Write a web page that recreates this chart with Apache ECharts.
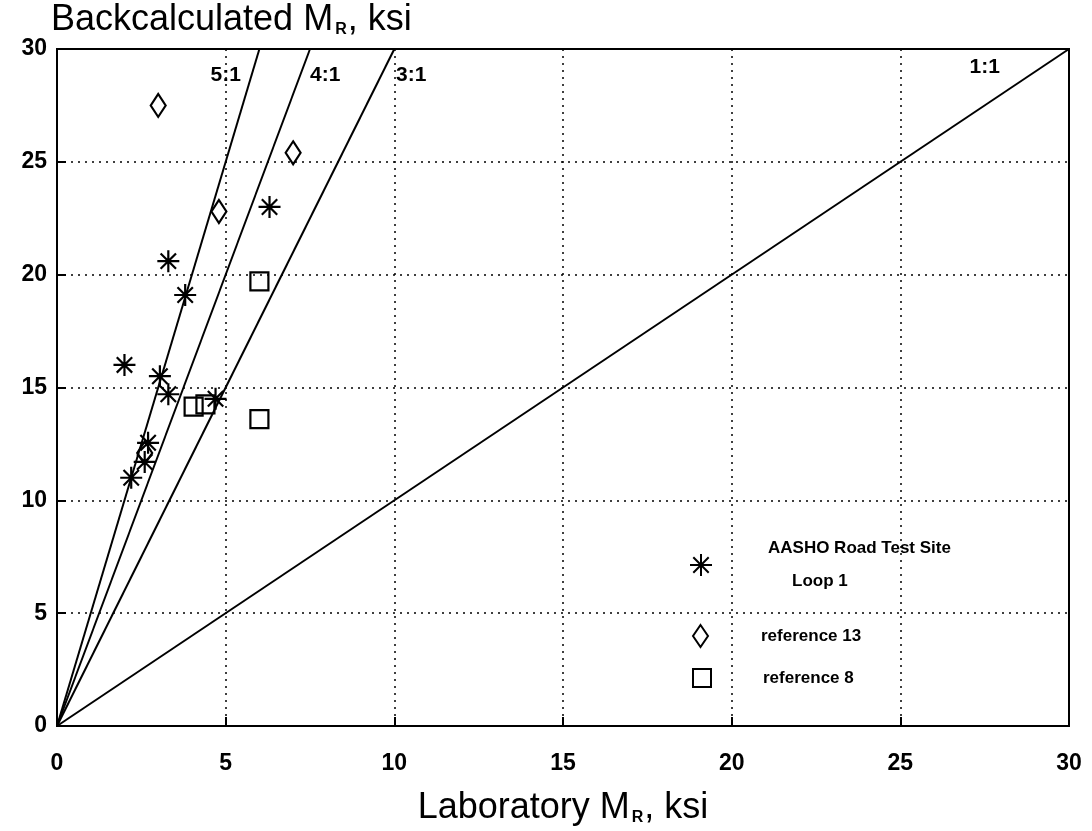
<!DOCTYPE html>
<html>
<head>
<meta charset="utf-8">
<script src="https://cdn.jsdelivr.net/npm/echarts@6/dist/echarts.min.js"></script>
<style>
html,body{margin:0;padding:0;background:#fff;}
#chart{width:1092px;height:831px;}
</style>
</head>
<body>
<div id="chart"></div>
<script>
// ---- data ----
const aashoX = [6.3, 3.3, 3.8, 2.0, 3.05, 3.3, 4.7, 2.7, 2.6, 2.2];
const aashoY = [23.0, 20.6, 19.1, 16.0, 15.5, 14.7, 14.5, 12.55, 11.7, 11.0];
const ref13X = [3.0, 7.0, 4.8, 2.6];
const ref13Y = [27.5, 25.4, 22.8, 12.1];
const ref8X = [6.0, 4.05, 4.4, 6.0];
const ref8Y = [19.7, 14.15, 14.25, 13.6];
const ratioNames = ['5:1', '4:1', '3:1', '1:1'];
const ratioEndX = [6, 7.5, 10, 30];
const ratioEndY = [30, 30, 30, 30];
const ratioLabelX = [5.0, 7.95, 10.5, 27.5];
const ratioLabelY = [28.85, 28.85, 28.85, 29.2];
const axisTicks = [0, 5, 10, 15, 20, 25, 30];

const FONT = 'Liberation Sans, Arial, sans-serif';
const asteriskPath = 'path://M10,0L10,20M0,10L20,10M3,3L17,17M3,17L17,3';

const zip = (xs, ys) => xs.map((x, i) => [x, ys[i]]);

const ratioSeries = ratioNames.map((n, i) => ({
  name: 'line ' + n,
  type: 'line',
  data: [[0, 0], [ratioEndX[i], ratioEndY[i]]],
  symbol: 'none',
  silent: true,
  lineStyle: { color: '#000', width: 2 },
  z: 3
}));

const axisCommon = {
  type: 'value', min: axisTicks[0], max: axisTicks[axisTicks.length - 1], interval: 5,
  axisLine: { show: true, onZero: false, lineStyle: { color: '#000', width: 2 } },
  axisTick: { show: true, inside: true, length: 9, lineStyle: { color: '#000', width: 2 } },
  splitLine: { show: true, lineStyle: { color: '#000', width: 1.5, type: [2, 5] } },
  axisLabel: { color: '#000', fontSize: 23, fontWeight: 'bold', fontFamily: FONT }
};

const titleRich = {
  a: { fontSize: 36, fontFamily: FONT, color: '#000', lineHeight: 40, verticalAlign: 'bottom' },
  s: { fontSize: 16, fontWeight: 'bold', fontFamily: FONT, color: '#000', lineHeight: 22, verticalAlign: 'bottom', padding: [0, 1, 0, 2] }
};

const legendText = (pad) => ({
  color: '#000', fontSize: 17, fontWeight: 'bold', fontFamily: FONT,
  rich: {
    a: { fontSize: 17, fontWeight: 'bold', fontFamily: FONT, color: '#000', padding: [0, 0, 0, pad], lineHeight: 33 },
    b: { fontSize: 17, fontWeight: 'bold', fontFamily: FONT, color: '#000', padding: [0, 0, 0, pad + 24], lineHeight: 33 }
  }
});

const markerStyle = { color: 'transparent', borderColor: '#000', borderWidth: 2.2, opacity: 1 };

const option = {
  backgroundColor: '#fff',
  animation: false,
  grid: { left: 57, right: 23, top: 49, bottom: 101, show: true, borderColor: '#000', borderWidth: 2, backgroundColor: 'transparent' },
  xAxis: Object.assign({}, axisCommon, {
    axisLabel: Object.assign({}, axisCommon.axisLabel, { margin: 26 }),
    name: '{a|Laboratory M}{s|R}{a|, ksi}',
    nameLocation: 'middle',
    nameGap: 60,
    nameTextStyle: { rich: titleRich }
  }),
  yAxis: Object.assign({}, axisCommon, {
    axisLabel: Object.assign({}, axisCommon.axisLabel, { margin: 10 }),
    name: '{a|Backcalculated M}{s|R}{a|, ksi}',
    nameLocation: 'end',
    nameGap: -3,
    nameTextStyle: { align: 'left', rich: titleRich, padding: [0, 0, 0, -6] }
  }),
  legend: [
    {
      data: ['AASHO Road Test Site'], left: 689, top: 540, padding: 0,
      itemWidth: 22, itemHeight: 22,
      formatter: () => '{a|AASHO Road Test Site}\n{b|Loop 1}',
      textStyle: legendText(51), selectedMode: false
    },
    {
      data: ['reference 13'], left: 692, top: 624, padding: 0,
      itemWidth: 15, itemHeight: 22,
      formatter: (n) => '{a|' + n + '}',
      textStyle: legendText(48), selectedMode: false
    },
    {
      data: ['reference 8'], left: 692, top: 668, padding: 0,
      itemWidth: 18, itemHeight: 18,
      formatter: (n) => '{a|' + n + '}',
      textStyle: legendText(47), selectedMode: false
    }
  ],
  series: ratioSeries.concat([
    {
      name: 'ratio labels',
      type: 'scatter',
      data: ratioLabelX.map((x, i) => [x, ratioLabelY[i], ratioNames[i]]),
      symbolSize: 0,
      silent: true,
      itemStyle: { opacity: 1 },
      label: {
        show: true, position: 'inside',
        formatter: (p) => p.value[2],
        color: '#000', fontSize: 21, fontWeight: 'bold', fontFamily: FONT
      },
      z: 4
    },
    {
      name: 'AASHO Road Test Site',
      type: 'scatter',
      data: zip(aashoX, aashoY),
      symbol: asteriskPath,
      symbolSize: 22,
      itemStyle: markerStyle,
      z: 5
    },
    {
      name: 'reference 13',
      type: 'scatter',
      data: zip(ref13X, ref13Y),
      symbol: 'diamond',
      symbolSize: [15, 23],
      itemStyle: markerStyle,
      z: 5
    },
    {
      name: 'reference 8',
      type: 'scatter',
      data: zip(ref8X, ref8Y),
      symbol: 'rect',
      symbolSize: [18, 18],
      itemStyle: markerStyle,
      z: 5
    }
  ])
};

const chart = echarts.init(document.getElementById('chart'), null, { renderer: 'canvas' });
chart.setOption(option);
</script>
</body>
</html>
